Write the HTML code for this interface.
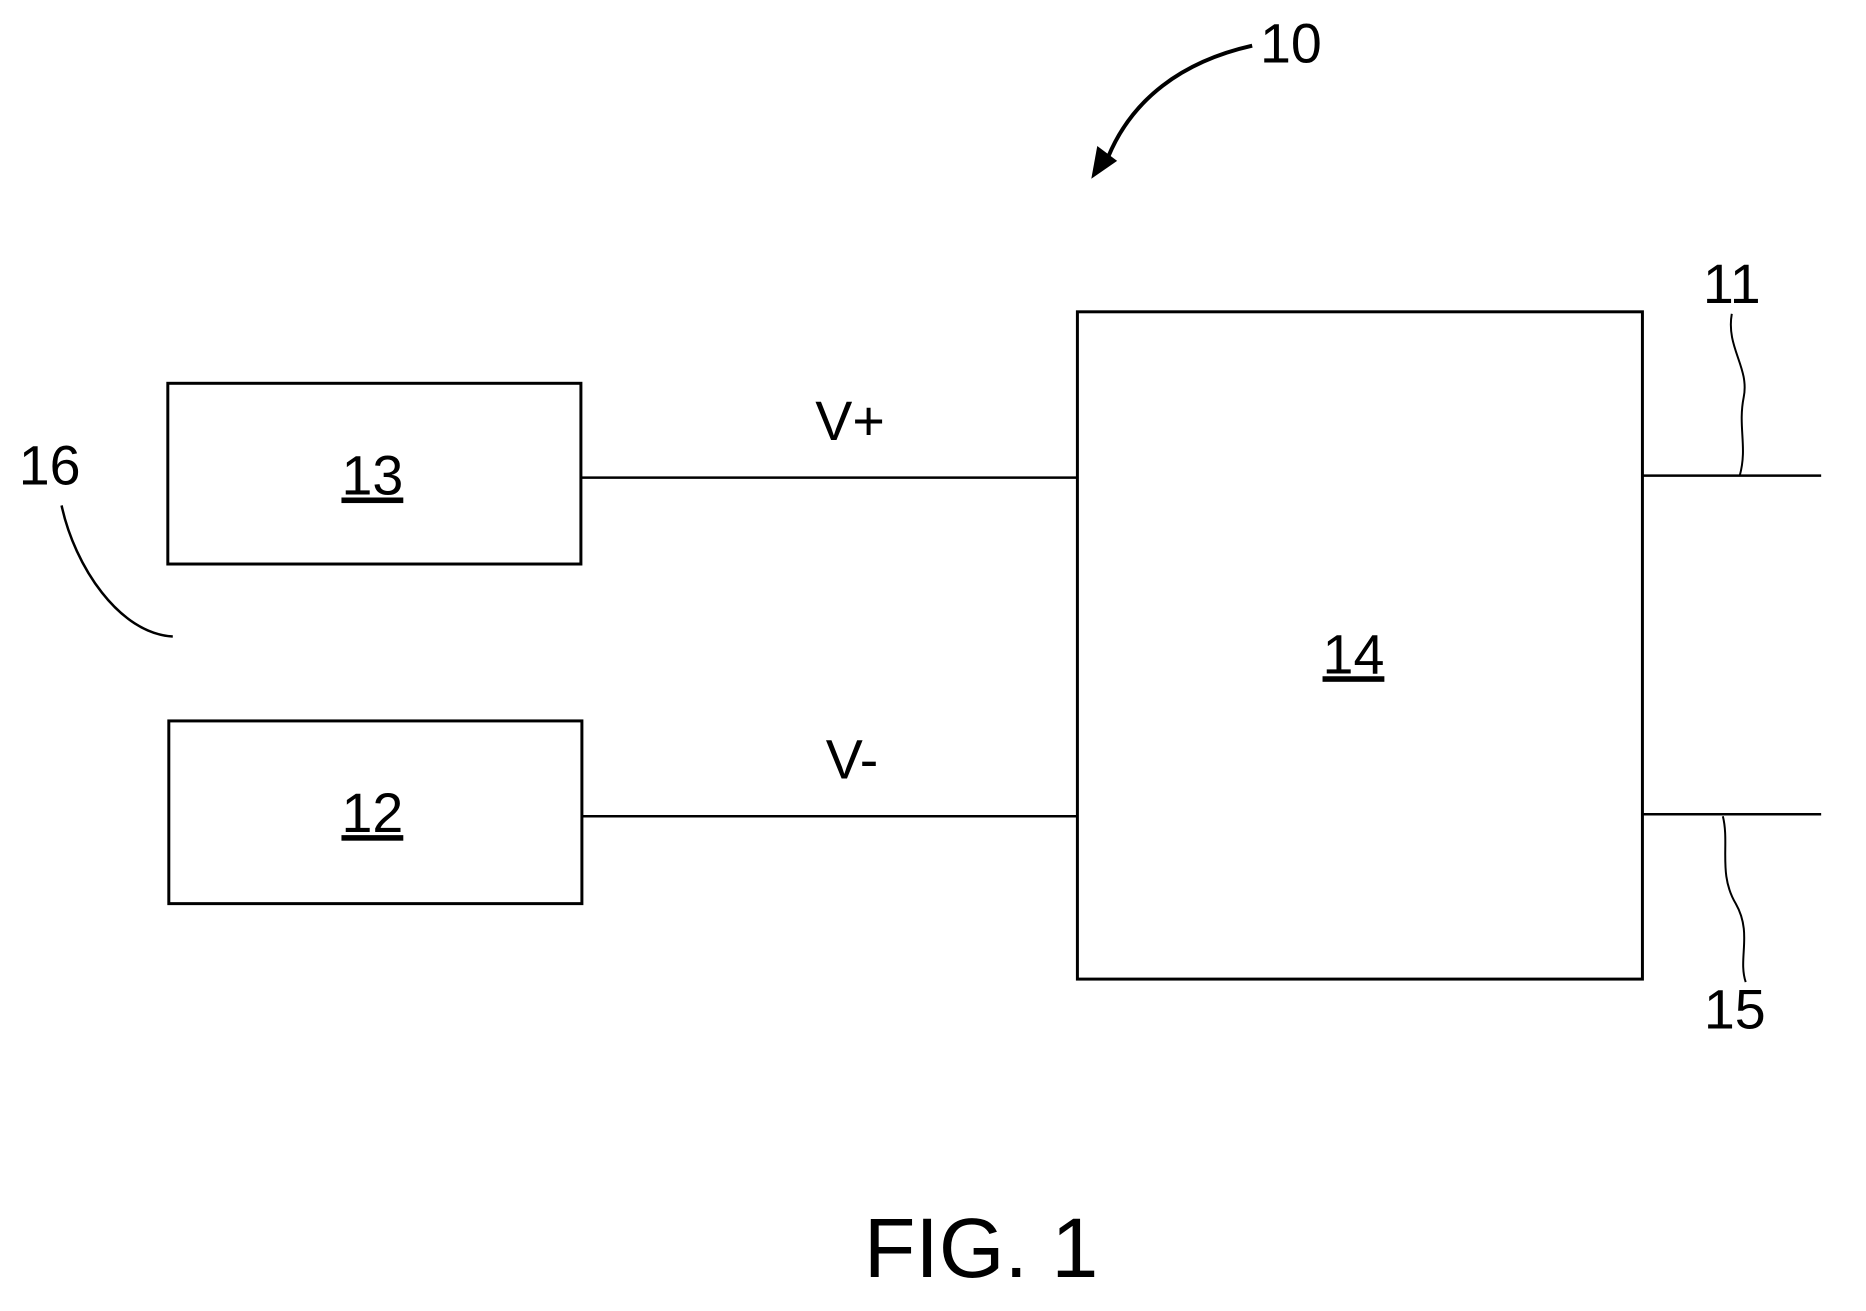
<!DOCTYPE html>
<html><head><meta charset="utf-8"><style>
html,body{margin:0;padding:0;background:#fff}
svg{display:block}
text{font-family:"Liberation Sans",Arial,sans-serif;fill:#000}
</style></head><body>
<svg width="1866" height="1311" viewBox="0 0 1866 1311" xmlns="http://www.w3.org/2000/svg">
<g transform="scale(0.993)">
<g fill="none" stroke="#000" stroke-width="3">
<rect x="169" y="386" width="416" height="182"/>
<rect x="170" y="726" width="416" height="184"/>
<rect x="1085" y="314" width="569" height="672"/>
<line x1="585" y1="481" x2="1085" y2="481" stroke-width="2.5"/>
<line x1="586" y1="822" x2="1085" y2="822" stroke-width="2.5"/>
<line x1="1654" y1="479" x2="1834" y2="479" stroke-width="2.5"/>
<line x1="1654" y1="820" x2="1834" y2="820" stroke-width="2.5"/>
<path d="M62 509 C75 570 120 638 174 641" stroke-width="2.5"/>
<path d="M1744 316 C1738 350 1762 370 1756 400 C1750 430 1760 450 1752 479" stroke-width="2"/>
<path d="M1735 822 C1742 850 1730 880 1748 910 C1765 940 1750 965 1758 989" stroke-width="2"/>
<path d="M1261 46 C1190 62 1140 100 1116 158" stroke-width="4"/>
</g>
<polygon points="1099,180 1105,147 1125,162" fill="#000"/>
<g font-size="56">
<text x="375" y="498" text-anchor="middle" text-decoration="underline">13</text>
<text x="375" y="838" text-anchor="middle" text-decoration="underline">12</text>
<text x="1363" y="678" text-anchor="middle" text-decoration="underline">14</text>
<text x="856" y="443" text-anchor="middle">V+</text>
<text x="858" y="784" text-anchor="middle">V-</text>
<text x="50" y="488" text-anchor="middle">16</text>
<text x="1744" y="305" text-anchor="middle">11</text>
<text x="1747" y="1036" text-anchor="middle">15</text>
<text x="1300" y="63" text-anchor="middle">10</text>
</g>
<text x="988" y="1286" font-size="85" text-anchor="middle">FIG. 1</text>
</g>
</svg>
</body></html>
